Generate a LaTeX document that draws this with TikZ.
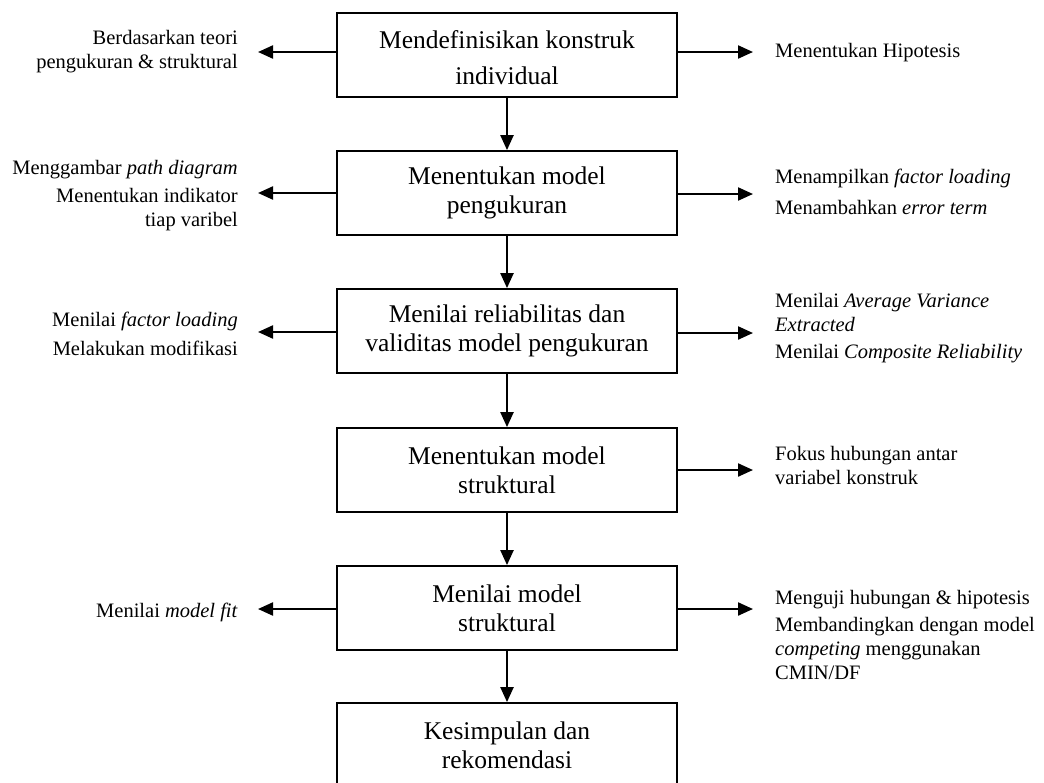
\documentclass[tikz,border=0pt]{standalone}
\usepackage{fontspec}
\setmainfont{Liberation Serif}
\usetikzlibrary{arrows.meta}

\tikzset{
  stepbox/.style={draw=black, line width=1.8pt, minimum width=340pt, minimum height=84pt,
    align=center, inner sep=0pt,
    font=\fontsize{25.5}{29}\selectfont},
  sidel/.style={anchor=north east, align=right, inner sep=0pt,
    font=\fontsize{20.5}{24}\selectfont},
  sider/.style={anchor=north west, align=left, inner sep=0pt,
    font=\fontsize{20.5}{24}\selectfont},
  sideone/.style={inner sep=0pt, font=\fontsize{20.5}{24}\selectfont},
  arr/.style={line width=2.2pt, -{Triangle[length=15pt,width=13pt]}},
}

\begin{document}
\begin{tikzpicture}[x=1pt, y=-1pt]
  \fill[white] (0,0) rectangle (1044,782);
  \clip (0,0) rectangle (1044,782);

  % main steps
  \node[stepbox] (b1) at (507,55)  {\rule{0pt}{23.5pt}Mendefinisikan konstruk\\[7pt]individual};
  \node[stepbox] (b2) at (507,193) {Menentukan model\\pengukuran};
  \node[stepbox] (b3) at (507,331) {Menilai reliabilitas dan\\validitas model pengukuran};
  \node[stepbox] (b4) at (507,470) {Menentukan model\\struktural};
  \node[stepbox] (b5) at (507,608) {Menilai model\\struktural};
  \node[stepbox] (b6) at (507,745) {Kesimpulan dan\\rekomendasi};

  % side notes, left
  \node[sidel] (l1) at (238,30)  {Berdasarkan teori\\pengukuran \& struktural};
  \node[sidel] (l2) at (238,160) {Menggambar \textit{path diagram}\\[4pt]Menentukan indikator\\tiap varibel};
  \node[sidel] (l3) at (238,312) {Menilai \textit{factor loading}\\[5pt]Melakukan modifikasi};
  \node[sideone, anchor=base east] (l5) at (238,617) {Menilai \textit{model fit}};

  % side notes, right
  \node[sideone, anchor=base west] (r1) at (775,57) {Menentukan Hipotesis};
  \node[sider] (r2) at (775,169) {Menampilkan \textit{factor loading}\\[7pt]Menambahkan \textit{error term}};
  \node[sider] (r3) at (775,293) {Menilai \textit{Average Variance}\\\textit{Extracted}\\[3pt]Menilai \textit{Composite Reliability}};
  \node[sider] (r4) at (775,446) {Fokus hubungan antar\\variabel konstruk};
  \node[sider] (r5) at (775,590) {Menguji hubungan \& hipotesis\\[3pt]Membandingkan dengan model\\\textit{competing} menggunakan\\CMIN/DF};

  % arrow ends
  \coordinate (al1) at (258,52);
  \coordinate (al2) at (258,193);
  \coordinate (al3) at (258,332);
  \coordinate (al5) at (258,609);
  \coordinate (ar1) at (753,52);
  \coordinate (ar2) at (753,194);
  \coordinate (ar3) at (753,333);
  \coordinate (ar4) at (753,470);
  \coordinate (ar5) at (753,609);

  % flow
  \draw[arr] (b1.south) -- (b2.north);
  \draw[arr] (b2.south) -- (b3.north);
  \draw[arr] (b3.south) -- (b4.north);
  \draw[arr] (b4.south) -- (b5.north);
  \draw[arr] (b5.south) -- (b6.north);

  % branches
  \draw[arr] (b1.west |- al1) -- (al1);
  \draw[arr] (b2.west |- al2) -- (al2);
  \draw[arr] (b3.west |- al3) -- (al3);
  \draw[arr] (b5.west |- al5) -- (al5);
  \draw[arr] (b1.east |- ar1) -- (ar1);
  \draw[arr] (b2.east |- ar2) -- (ar2);
  \draw[arr] (b3.east |- ar3) -- (ar3);
  \draw[arr] (b4.east |- ar4) -- (ar4);
  \draw[arr] (b5.east |- ar5) -- (ar5);
\end{tikzpicture}
\end{document}
